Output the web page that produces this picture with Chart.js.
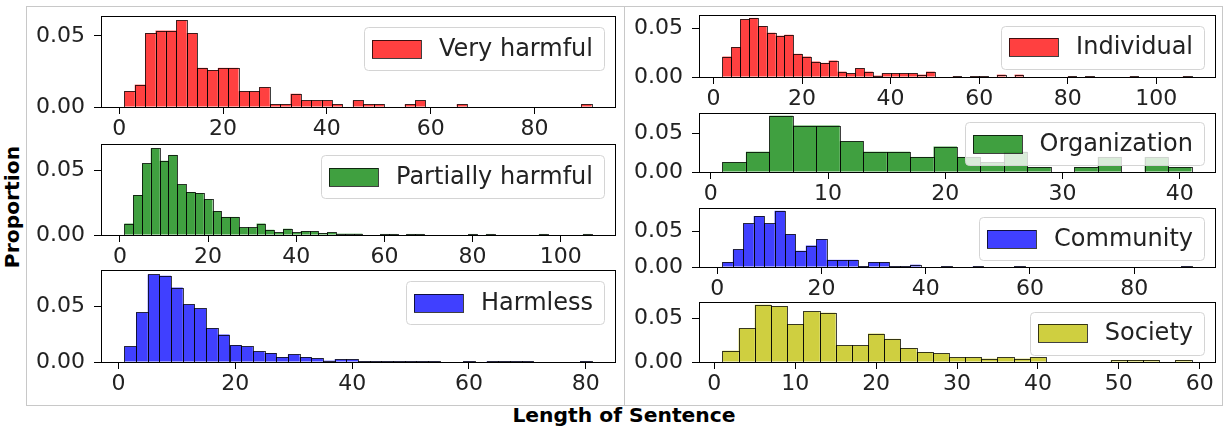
<!DOCTYPE html>
<html>
<head>
<meta charset="utf-8">
<script src="https://cdn.jsdelivr.net/npm/chart.js@4.4.1/dist/chart.umd.min.js"></script>
<style>
  html, body { margin: 0; padding: 0; background: #fff; }
  body { width: 1227px; height: 431px; position: relative; overflow: hidden; font-family: 'DejaVu Sans', sans-serif; }
  .panel { position: absolute; border: 1px solid #c8c8c8; box-sizing: border-box; }
  .box { position: absolute; }
  .label { position: absolute; font-weight: bold; font-size: 20.3px; color: #000; white-space: nowrap; }
  #ylab { left: 12px; top: 207px; transform: translate(-50%, -50%) rotate(-90deg); }
  #xlab { left: 624px; top: 415px; transform: translate(-50%, -50%); }
</style>
</head>
<body>
<div class="panel" style="left:26px;top:6px;width:599px;height:400px"></div>
<div class="panel" style="left:624px;top:6px;width:599px;height:400px"></div>
<div class="label" id="ylab">Proportion</div>
<div class="label" id="xlab">Length of Sentence</div>

<script>
// ***** bin heights (proportion per 2-word bin)
const BIN = 2;

const veryHarmfulStart = 1;
const veryHarmful = [0.0111, 0.0157, 0.0519, 0.0537, 0.0537, 0.0609, 0.0519, 0.0275, 0.0259, 0.0275,
  0.0275, 0.0111, 0.0111, 0.0139, 0.0019, 0.0019, 0.0093, 0.0046, 0.0046, 0.0046,
  0.0019, 0, 0.0046, 0.0019, 0.0019, 0, 0, 0.0019, 0.0046, 0,
  0, 0, 0.0019, 0, 0, 0, 0, 0, 0, 0,
  0, 0, 0, 0, 0.0019];

const partiallyStart = 1;
const partiallyHarmful = [0.0088, 0.0308, 0.0551, 0.0667, 0.0571, 0.0616, 0.0389, 0.0331, 0.0323, 0.0275,
  0.0184, 0.0139, 0.0139, 0.0058, 0.0058, 0.0088, 0.0040, 0.0020, 0.0048, 0.0020,
  0.0030, 0.0028, 0.0015, 0.0020, 0.0010, 0.0010, 0.0010, 0, 0, 0.0008,
  0.0008, 0, 0.0008, 0.0008, 0, 0, 0, 0, 0, 0.0008,
  0, 0.0008, 0, 0, 0, 0, 0, 0.0008, 0, 0,
  0, 0, 0.0008];

const harmlessStart = 1;
const harmless = [0.0139, 0.0444, 0.0784, 0.0772, 0.0666, 0.0515, 0.0479, 0.0302, 0.0246, 0.0151,
  0.0139, 0.0095, 0.0080, 0.0044, 0.0068, 0.0044, 0.0033, 0.0012, 0.0024, 0.0024,
  0.0009, 0.0009, 0.0009, 0.0009, 0.0009, 0.0009, 0.0009, 0, 0, 0.0009,
  0, 0.0009, 0.0009, 0.0009, 0.0009, 0, 0, 0, 0, 0.0009];

const individualStart = 2;
const individual = [0.0210, 0.0307, 0.0593, 0.0607, 0.0524, 0.0455, 0.0424, 0.0434, 0.0238, 0.0210,
  0.0159, 0.0145, 0.0169, 0.0055, 0.0038, 0.0090, 0.0055, 0.0014, 0.0038, 0.0038,
  0.0038, 0.0038, 0.0024, 0.0055, 0, 0, 0.0010, 0, 0.0010, 0.0010,
  0, 0.0024, 0, 0.0024, 0, 0, 0, 0, 0, 0.0010,
  0, 0.0010, 0, 0, 0, 0, 0.0010, 0, 0, 0,
  0, 0, 0.0010];

const organizationStart = 1;
const organization = [0.0128, 0.0265, 0.0735, 0.0607, 0.0607, 0.0402, 0.0265, 0.0265, 0.0197, 0.0333,
  0.0197, 0.0128, 0.0265, 0.0064, 0, 0.0064, 0.0197, 0, 0.0197, 0.0064];

const communityStart = 1;
const community = [0.0069, 0.0248, 0.0615, 0.0720, 0.0615, 0.0794, 0.0463, 0.0229, 0.0303, 0.0394,
  0.0101, 0.0101, 0.0101, 0.0014, 0.0069, 0.0069, 0.0014, 0.0014, 0.0032, 0,
  0, 0.0014, 0, 0, 0.0014, 0, 0, 0, 0.0014, 0,
  0, 0, 0, 0, 0, 0, 0, 0, 0, 0,
  0, 0, 0, 0, 0.0014];

const societyStart = 1;
const society = [0.0128, 0.0383, 0.0650, 0.0635, 0.0429, 0.0575, 0.0560, 0.0188, 0.0188, 0.0323,
  0.0263, 0.0158, 0.0113, 0.0098, 0.0053, 0.0053, 0.0038, 0.0053, 0.0038, 0.0053,
  0, 0, 0, 0, 0.0023, 0.0023, 0.0023, 0, 0.0023];

// ***** tick labels
const yTicks = [0, 0.05];
const ticksBy20To80 = [0, 20, 40, 60, 80];
const ticksBy20To100 = [0, 20, 40, 60, 80, 100];
const ticksBy10To40 = [0, 10, 20, 30, 40];
const ticksBy10To60 = [0, 10, 20, 30, 40, 50, 60];

// ***** colours (matplotlib r / g / b / y at alpha 0.75)
const RED = 'rgba(255, 0, 0, 0.75)';
const GREEN = 'rgba(0, 128, 0, 0.75)';
const BLUE = 'rgba(0, 0, 255, 0.75)';
const OLIVE = 'rgba(191, 191, 0, 0.75)';
const EDGE = 'rgba(0, 0, 0, 0.75)';

const FONT = 'DejaVu Sans';
const Y_AXIS_W = 75;
const X_AXIS_H = 34;
const PAD = 6;

// bar outlines drawn on the edge (like matplotlib), so thin bars keep their colour
const barEdgePlugin = {
  id: 'barEdge',
  afterDatasetsDraw(chart) {
    const { ctx } = chart;
    const meta = chart.getDatasetMeta(0);
    ctx.save();
    ctx.strokeStyle = EDGE;
    ctx.lineWidth = 1;
    meta.data.forEach((bar, i) => {
      if (!chart.data.datasets[0].data[i].y) return;
      const { x, y, base, width } = bar.getProps(['x', 'y', 'base', 'width'], true);
      const l = Math.round(x - width / 2);
      const r = Math.round(x + width / 2);
      const t = Math.round(y);
      const b = Math.round(base);
      ctx.strokeRect(l + 0.5, t + 0.5, r - l, Math.max(b - t, 1));
    });
    ctx.restore();
  },
};

// box round the plot area
const framePlugin = {
  id: 'frame',
  afterDatasetsDraw(chart) {
    const { ctx, chartArea: a } = chart;
    ctx.save();
    ctx.strokeStyle = '#000';
    ctx.lineWidth = 1;
    ctx.strokeRect(Math.round(a.left) + 0.5, Math.round(a.top) + 0.5,
      Math.round(a.right - a.left), Math.round(a.bottom - a.top));
    ctx.restore();
  },
};

// matplotlib-like legend inside the axes
const boxLegendPlugin = {
  id: 'boxLegend',
  afterDatasetsDraw(chart, args, opts) {
    const { ctx, chartArea: a } = chart;
    const ds = chart.data.datasets[0];
    ctx.save();
    ctx.font = '24px "' + FONT + '"';
    const textW = ctx.measureText(ds.label).width;
    const h = 43;
    const w = 8 + 49 + 18 + textW + 11;
    const right = a.right - 11;
    const left = right - w;
    const top = opts.loc === 'center' ? (a.top + a.bottom) / 2 - h / 2 + 1 : a.top + 11;

    ctx.beginPath();
    ctx.roundRect(Math.round(left) + 0.5, Math.round(top) + 0.5, Math.round(w), h, 4);
    ctx.fillStyle = 'rgba(255, 255, 255, 0.8)';
    ctx.fill();
    ctx.strokeStyle = '#d4d4d4';
    ctx.lineWidth = 1;
    ctx.stroke();

    const sy = Math.round(top + h / 2 - 9);
    ctx.fillStyle = ds.backgroundColor;
    ctx.fillRect(Math.round(left) + 8, sy, 49, 18);
    ctx.strokeStyle = EDGE;
    ctx.strokeRect(Math.round(left) + 8.5, sy + 0.5, 49, 18);

    ctx.fillStyle = '#222';
    ctx.textBaseline = 'middle';
    ctx.textAlign = 'left';
    ctx.fillText(ds.label, left + 8 + 49 + 18, top + h / 2 + 1);
    ctx.restore();
  },
};

function makeHist(rect, label, color, start, values, xTicks, legendLoc) {
  const [x0, y0, x1, y1] = rect;
  const box = document.createElement('div');
  box.className = 'box';
  box.style.left = (x0 - Y_AXIS_W) + 'px';
  box.style.top = (y0 - PAD) + 'px';
  box.style.width = (x1 - x0 + Y_AXIS_W + PAD) + 'px';
  box.style.height = (y1 - y0 + PAD + X_AXIS_H) + 'px';
  const canvas = document.createElement('canvas');
  box.appendChild(canvas);
  document.body.appendChild(box);

  const lo = start;
  const hi = start + BIN * values.length;
  const margin = (hi - lo) * 0.05;
  const ymax = Math.max(...values) * 1.05;

  const tickFont = { family: FONT, size: 22 };
  const axisGrid = { display: true, drawOnChartArea: false, drawTicks: true, tickLength: 7, color: '#000', lineWidth: 1, offset: false };

  return new Chart(canvas, {
    type: 'bar',
    data: {
      datasets: [
        {
          label: label,
          data: values.map((v, i) => ({ x: start + BIN * i + BIN / 2, y: v })),
          backgroundColor: color,
          borderWidth: 0,
          inflateAmount: 0,
          barPercentage: 1,
          categoryPercentage: 1,
        },
      ],
    },
    options: {
      responsive: true,
      maintainAspectRatio: false,
      animation: false,
      layout: { padding: { top: PAD, right: PAD, left: 0, bottom: 0 } },
      plugins: {
        legend: { display: false },
        tooltip: { enabled: false },
        boxLegend: { loc: legendLoc },
      },
      scales: {
        x: {
          type: 'linear',
          offset: false,
          min: lo - margin,
          max: hi + margin,
          afterBuildTicks: s => { s.ticks = xTicks.map(v => ({ value: v })); },
          afterFit: s => { s.height = X_AXIS_H; s.paddingLeft = 0; s.paddingRight = 0; },
          grid: axisGrid,
          border: { display: false },
          ticks: { padding: 2, color: '#222', font: tickFont, autoSkip: false, maxRotation: 0, callback: v => String(v) },
        },
        y: {
          min: 0,
          max: ymax,
          afterBuildTicks: s => { s.ticks = yTicks.map(v => ({ value: v })); },
          afterFit: s => { s.width = Y_AXIS_W; s.paddingTop = 0; s.paddingBottom = 0; },
          grid: axisGrid,
          border: { display: false },
          ticks: { padding: 9, color: '#222', font: tickFont, callback: v => v.toFixed(2) },
        },
      },
    },
    plugins: [barEdgePlugin, framePlugin, boxLegendPlugin],
  });
}

// ***** left column
makeHist([101, 16, 615, 107], 'Very harmful', RED, veryHarmfulStart, veryHarmful, ticksBy20To80, 'upper');
makeHist([101, 144, 615, 235], 'Partially harmful', GREEN, partiallyStart, partiallyHarmful, ticksBy20To100, 'upper');
makeHist([101, 270, 615, 362], 'Harmless', BLUE, harmlessStart, harmless, ticksBy20To80, 'upper');

// ***** right column
makeHist([699, 15, 1215, 77], 'Individual', RED, individualStart, individual, ticksBy20To100, 'center');
makeHist([699, 113, 1215, 172], 'Organization', GREEN, organizationStart, organization, ticksBy10To40, 'center');
makeHist([699, 208, 1215, 267], 'Community', BLUE, communityStart, community, ticksBy20To80, 'center');
makeHist([699, 302, 1215, 362], 'Society', OLIVE, societyStart, society, ticksBy10To60, 'center');
</script>
</body>
</html>
